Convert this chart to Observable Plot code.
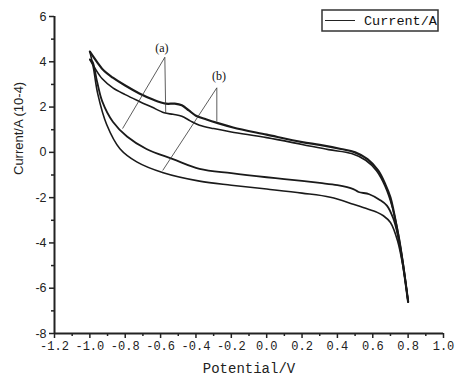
<!DOCTYPE html>
<html><head><meta charset="utf-8">
<script src="https://cdn.jsdelivr.net/npm/d3@7"></script>
<script src="https://cdn.jsdelivr.net/npm/@observablehq/plot@0.6"></script>
<style>body{margin:0;background:#fff}</style>
</head><body><div id="chart"></div>
<script>
// Curve (a): anodic (upper) branch and return (lower) branch
const aUpperPotential = [-1.0, -0.97, -0.93, -0.87, -0.8, -0.72, -0.65, -0.58, -0.53, -0.48, -0.43, -0.38, -0.3, -0.2, 0.0, 0.2, 0.35, 0.48, 0.56, 0.62, 0.67, 0.71, 0.745, 0.77, 0.8];
const aUpperCurrent   = [4.1, 3.7, 3.25, 2.85, 2.55, 2.25, 2.0, 1.75, 1.68, 1.6, 1.38, 1.2, 1.05, 0.9, 0.65, 0.35, 0.12, -0.05, -0.35, -0.8, -1.5, -2.4, -3.6, -4.8, -6.6];
const aLowerPotential = [0.8, 0.77, 0.74, 0.715, 0.68, 0.64, 0.58, 0.52, 0.49, 0.4, 0.3, 0.1, 0.0, -0.2, -0.38, -0.53, -0.68, -0.79, -0.87, -0.93, -0.96, -0.985, -1.0];
const aLowerCurrent   = [-6.6, -4.9, -3.6, -2.9, -2.35, -2.1, -1.85, -1.75, -1.62, -1.45, -1.35, -1.18, -1.1, -0.92, -0.73, -0.3, 0.15, 0.7, 1.35, 2.25, 3.15, 4.0, 4.1];
// Curve (b)
const bUpperPotential = [-1.0, -0.96, -0.92, -0.87, -0.8, -0.72, -0.64, -0.57, -0.52, -0.48, -0.44, -0.4, -0.34, -0.28, -0.19, 0.0, 0.2, 0.3, 0.42, 0.5, 0.57, 0.63, 0.67, 0.7, 0.74, 0.77, 0.8];
const bUpperCurrent   = [4.45, 4.0, 3.6, 3.3, 2.95, 2.6, 2.32, 2.15, 2.15, 2.08, 1.85, 1.62, 1.45, 1.3, 1.1, 0.78, 0.45, 0.33, 0.15, 0.0, -0.3, -0.8, -1.4, -2.0, -3.5, -4.9, -6.6];
const bLowerPotential = [0.8, 0.77, 0.74, 0.7, 0.66, 0.625, 0.55, 0.49, 0.36, 0.2, 0.0, -0.2, -0.38, -0.585, -0.735, -0.83, -0.905, -0.955, -0.98, -1.0];
const bLowerCurrent   = [-6.6, -5.0, -3.9, -3.1, -2.8, -2.65, -2.45, -2.29, -1.98, -1.8, -1.62, -1.45, -1.27, -0.9, -0.42, 0.16, 1.23, 2.57, 3.73, 4.45];

// Axis ticks
const xTicks = [-1.2, -1.0, -0.8, -0.6, -0.4, -0.2, 0.0, 0.2, 0.4, 0.6, 0.8, 1.0];
const xMinorTicks = [-1.1, -0.9, -0.7, -0.5, -0.3, -0.1, 0.1, 0.3, 0.5, 0.7, 0.9];
const yTicks = [-8, -6, -4, -2, 0, 2, 4, 6];
const yMinorTicks = [-7, -5, -3, -1, 1, 3, 5];

// Annotations: label, label position, and two leader lines each
const annotLabels = ["(a)", "(b)"];
const annotLabelX = [-0.593, -0.27];
const annotLabelY = [4.6, 3.35];
const leaderX1 = [-0.576, -0.576, -0.282, -0.282];
const leaderY1 = [4.2, 4.2, 2.85, 2.85];
const leaderX2 = [-0.815, -0.571, -0.588, -0.282];
const leaderY2 = [1.05, 1.72, -0.8, 1.37];

const toRows = (v, c) => v.map((p, i) => ({potential: p, current: c[i]}));
const leaders = leaderX1.map((x, i) => ({x1: x, y1: leaderY1[i], x2: leaderX2[i], y2: leaderY2[i]}));
const labels = annotLabels.map((t, i) => ({t, x: annotLabelX[i], y: annotLabelY[i]}));

const curveStyle = {x: "potential", y: "current", stroke: "#1a1a1a", curve: "catmull-rom"};

const chart = Plot.plot({
  width: 466,
  height: 384,
  marginLeft: 54,
  marginRight: 23,
  marginTop: 16,
  marginBottom: 51,
  style: {background: "#fff", color: "#222"},
  x: {domain: [-1.2, 1.0]},
  y: {domain: [-8, 6]},
  marks: [
    Plot.line(toRows(aUpperPotential, aUpperCurrent), {...curveStyle, strokeWidth: 1.6}),
    Plot.line(toRows(aLowerPotential, aLowerCurrent), {...curveStyle, strokeWidth: 1.8}),
    Plot.line(toRows(bUpperPotential, bUpperCurrent), {...curveStyle, strokeWidth: 2.2}),
    Plot.line(toRows(bLowerPotential, bLowerCurrent), {...curveStyle, strokeWidth: 1.6}),
    Plot.link(leaders, {x1: "x1", y1: "y1", x2: "x2", y2: "y2", stroke: "#333", strokeWidth: 0.8}),
    Plot.text(labels, {x: "x", y: "y", text: "t", fontFamily: "Liberation Serif", fontSize: 12, fill: "#111"}),
    Plot.axisX(xTicks, {tickSize: 5, tickPadding: 3, strokeWidth: 1.5, tickFormat: d => d.toFixed(1), fontFamily: "Liberation Mono", fontSize: 12, label: null}),
    Plot.axisX(xMinorTicks, {tickSize: 3, strokeWidth: 1.5, tickFormat: () => "", label: null}),
    Plot.axisY(yTicks, {tickSize: 5, tickPadding: 3, strokeWidth: 1.5, tickFormat: d => String(d), fontFamily: "Liberation Sans", fontSize: 12.5, label: null}),
    Plot.axisY(yMinorTicks, {tickSize: 3, strokeWidth: 1.5, tickFormat: () => "", label: null}),
    Plot.ruleX([-1.2], {strokeWidth: 2, stroke: "#222"}),
    Plot.ruleY([-8], {strokeWidth: 2, stroke: "#222"}),
    Plot.text(["Potential/V"], {text: d => d, frameAnchor: "bottom", dy: 39, fontFamily: "Liberation Mono", fontSize: 14, fill: "#222"}),
    Plot.text(["Current/A (10-4)"], {text: d => d, frameAnchor: "left", rotate: -90, dx: -36, fontFamily: "Liberation Sans", fontSize: 13, fill: "#222"})
  ]
});

const svg = d3.select(chart);
const lg = svg.append("g");
lg.append("rect").attr("x", 322).attr("y", 10).attr("width", 116).attr("height", 21)
  .attr("fill", "#fff").attr("stroke", "#333").attr("stroke-width", 1.5);
lg.append("line").attr("x1", 325).attr("x2", 355).attr("y1", 20.5).attr("y2", 20.5)
  .attr("stroke", "#222").attr("stroke-width", 1);
lg.append("text").attr("x", 364).attr("y", 20.5).attr("dy", "0.35em").attr("text-anchor", "start")
  .attr("font-family", "Liberation Mono").attr("font-size", 13.5).attr("fill", "#111").text("Current/A");

document.getElementById("chart").append(chart);
</script></body></html>
